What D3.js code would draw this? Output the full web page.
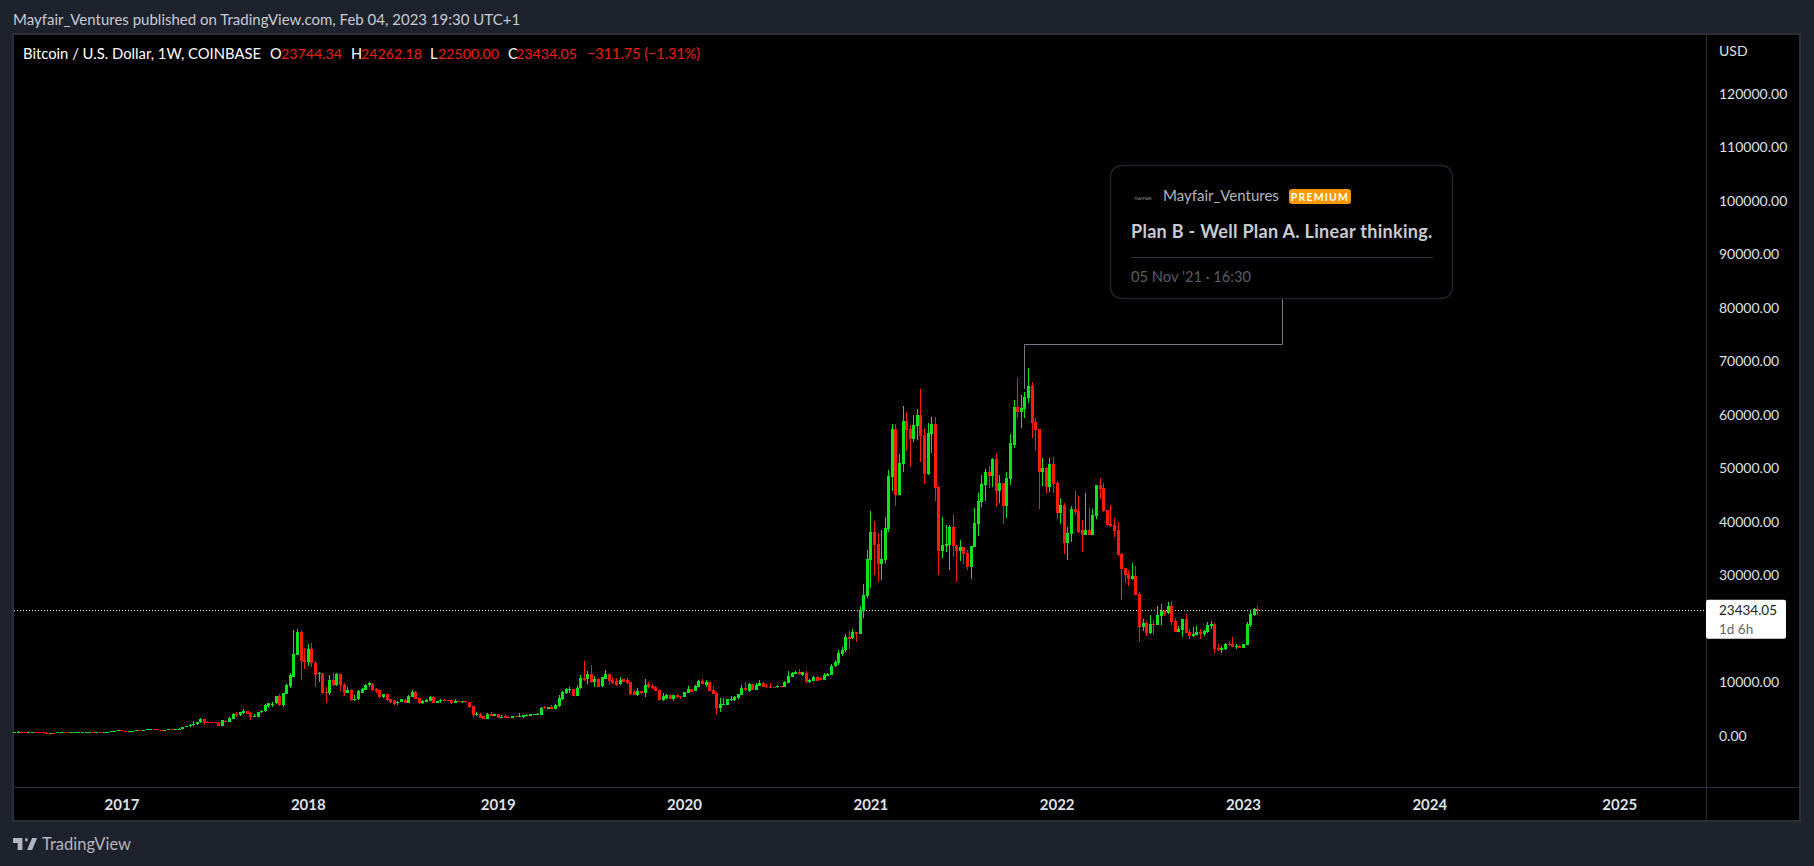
<!DOCTYPE html>
<html lang="en">
<head>
    <meta charset="UTF-8">
    <title>Bitcoin / U.S. Dollar, 1W, COINBASE</title>
    <script src="https://cdnjs.cloudflare.com/ajax/libs/d3/7.8.5/d3.min.js"></script>
    <style>
        body, html {
            margin: 0;
            padding: 0;
            width: 100%;
            height: 100%;
            overflow: hidden;
            background: #1e222d;
        }
        svg text {
            font-family: Lato, "Noto Sans", sans-serif;
        }
    </style>
</head>
<body>
    <div id="chart"></div>

    <script>
        // weekly candles, Jun 2016 to Jan 2023
        const opens = [
            578,665,765,665,640,650,665,655,625,585, 570,580,575,605,610,605,600,612,615,640,
            655,700,710,705,740,735,770,775,790,900, 995,905,825,920,925,1010,1000,1050,1180,1270,
            1230,1020,960,1100,1180,1170,1250,1340,1540,1780, 2050,2100,2500,3060,2580,2520,2560,2440,1880,2750,
            2620,3180,4060,3800,4250,4620,4240,3620,3560,4370, 4550,5550,5750,6050,7420,5740,7860,9350,11030,15150,
            19380,14150,13770,16140,13520,11530,11530,8170,8040,10410, 9480,11530,9480,8040,8540,6670,6800,8040,8540,9410,
            9660,8730,8540,7230,7790,6860,6610,6050,6300,6730, 6170,7230,8170,7040,6170,6360,6480,7170,6170,6430,
            6610,6610,6670,6170,6450,6400,6420,6300,5550,3870, 4060,3620,3180,4115,3680,4050,3430,3620,3490,3370,
            3680,3620,3490,3745,3745,3870,3990,3870,5426,5050, 5426,5050,5550,6800,8040,8540,8730,7480,8850,10785,
            10600,11530,10035,10660,9290,10660,11530,10410,10285,9660, 10535,10410,10035,8230,7610,8355,7920,9660,9290,9100,
            8540,6670,6980,7610,6860,7610,7360,7300,8040,8660, 8355,9165,10222,9540,10035,8540,7980,5175,5740,5740,
            6800,6610,6980,7670,8850,8290,9600,8540,9290,9910, 9290,9165,9100,9040,9290,9165,9910,11030,11530,11970,
            11345,11655,9975,10285,10910,10846,10410,11220,11345,12964,13650,15270,
            15960,18400,18180,19360,19000,23300,26110,32830,38070,35820, 32100,32830,38630,48350,57320,45000,50780,58810,57240,55450,
            57880,59940,56200,48910,56390,58260,46480,34520,35450,35640, 39000,35450,34520,35270,34150,31530,35270,39570,43680,46860,
            49290,48540,51720,45740,47230,42930,47980,54330,61430,60500, 61060,63120,65360,58630,57320,49290,50030,46480,50780,47230,
            41620,43120,36020,37700,42370,42000,38450,37510,38450,37510, 41060,46860,46300,42180,39570,39380,38450,33960,31350,30220,
            29290,29850,26480,20378,21063,19190,20876,20690,22370,23310, 22930,24240,21440,19380,19760,21810,19380,18630,18820,19380,
            19007,19380,20500,20876,16390,16016,16200,17140,17140,16580, 16765,16390,16950,20690,22560,23744.34
        ];
        const highs = [
            720,790,780,690,690,680,670,660,630,600, 590,590,610,630,615,610,615,620,645,660,
            720,745,750,770,750,775,780,800,940,1000, 1150,915,935,930,1050,1060,1070,1200,1300,1320,
            1260,1110,1110,1210,1210,1270,1350,1640,1850,2100, 2800,2580,3220,3100,2780,2560,2650,2560,2900,2900,
            3450,4150,4490,4480,4990,4700,4350,4100,4450,4780, 5900,6200,6280,7500,7880,8000,9750,11800,19700,19890,
            19700,16300,17140,17300,13900,12000,11700,9040,11350,11800, 11700,11600,9790,9040,8650,7540,8450,9000,9700,10020,
            9800,8950,8600,7800,7800,6900,6700,6450,6900,6800, 7700,8500,8300,7100,6700,6900,7400,7350,6550,6800,
            6800,6650,6700,6850,6500,6480,6550,6350,5600,4380, 4200,3650,4200,4400,4050,4100,3850,3850,3550,3750,
            3720,4210,3950,4000,4100,4050,4150,5350,5550,5450, 5750,5900,7600,8420,8900,9090,8800,9480,11280,13960,
            12090,13215,11150,10850,11050,12220,11600,10970,10785,10970, 10600,10700,10100,8480,8850,8430,10535,10035,9660,9200,
            8600,7920,7800,7700,7700,7800,7500,8250,9290,8800, 9500,10350,10540,10400,10100,9290,8100,6980,6980,6950,
            7420,7450,7790,9475,10036,9910,9650,9910,10410,10100, 9600,9910,9150,9450,9350,10200,12150,12000,12100,12470,
            11970,12150,10600,11200,11150,10900,11650,11780,13400,14085,16017,16516,
            18950,19570,19880,19400,24240,28350,34650,42000,40130,37885, 38450,40880,49660,58260,58300,52650,61620,60500,58100,59880,
            61060,64800,57510,58440,59570,59560,46700,40880,39380,39380, 41250,35640,36580,35270,34710,35456,42560,45360,48720,49850,
            50410,51900,52840,48720,47230,49290,56390,62740,66855,63680, 64240,68790,66110,59380,57320,51900,50220,51900,52090,47600,
            44430,43430,39010,42930,45735,44800,40315,45360,42560,42370, 46860,48160,47230,42180,43118,40690,39940,34150,31350,31000,
            32280,31720,26860,21810,21440,22560,21620,24240,24615,23460, 24990,25175,21996,20500,21810,22745,19940,20316,20500,19940,
            19760,21250,21440,21063,17140,16760,17330,17510,18450,17140, 16950,17140,21250,23310,23870,24262.18
        ];
        const lows = [
            575,660,530,620,610,640,640,620,480,565, 565,570,570,600,600,590,595,605,610,625,
            650,680,700,700,725,730,755,770,785,880, 820,750,800,880,915,950,990,1050,1170,1100,
            1000,900,950,1100,1140,1170,1240,1340,1540,1700, 1900,2060,2450,2000,2450,2300,2450,1850,1850,2600,
            2600,3150,3560,3600,4100,4000,2980,3450,3500,4200, 4400,5100,5300,5950,5500,5450,7750,9000,10900,15100,
            10400,12460,13030,12900,9170,10040,7800,6050,7600,9300, 9300,8430,7480,7950,6500,6450,6600,7950,8500,9100,
            8400,8000,7050,7050,6550,6100,5700,5800,6250,6100, 6100,7200,6850,5900,5900,6300,6450,6100,6150,6100,
            6430,6450,6000,6100,6350,6200,6180,5200,3560,3660, 3250,3130,3130,3650,3650,3350,3400,3350,3330,3340,
            3520,3580,3400,3700,3700,3850,3950,3850,5050,5000, 5000,5000,5450,6700,7800,7900,7400,7400,8800,10220,
            9660,9900,9165,9040,9170,10600,9475,9660,9290,9530, 10000,9660,7700,7550,7500,7800,7230,8950,8660,8300,
            6600,6500,6900,6800,6550,7100,6920,7250,7950,8180, 8300,9100,9600,9165,8300,7800,3870,4490,5650,5700,
            6550,6500,6900,7650,8400,8170,8500,8500,9250,9100, 8850,8950,8980,8950,9100,9100,9800,10900,11450,11400,
            11220,9790,9900,10250,10150,10350,10350,11150,11300,12800,13213,14958,
            15700,16200,18080,17510,19000,22000,25735,27610,30036,28730, 29100,32280,38070,45735,42930,44950,49290,53210,50220,54890,
            55270,51155,47040,48725,52840,43870,30036,33210,34330,30970, 33400,28730,32650,32090,30970,29290,35270,37325,42745,43860,
            46300,46480,42745,43490,39570,40690,46860,53770,59380,57510, 59380,62180,55640,53210,42370,46670,45360,45550,45360,40500,
            39570,33960,32840,36200,41250,37880,34330,37510,37510,37510, 40500,44240,41810,39190,39000,37140,33580,25360,28540,27980,
            29100,26300,17575,19630,18630,19007,18820,20690,20690,22370, 22745,20690,19380,19380,18450,19190,18070,18450,18820,18070,
            18630,19190,19940,15460,15830,15460,15960,16760,16580,16200, 16390,16390,16950,20316,22370,22500
        ];
        const closes = [
            665,765,665,640,650,665,655,625,585,570, 580,575,605,610,605,600,612,615,640,655,
            700,710,705,740,735,770,775,790,900,995, 905,825,920,925,1010,1000,1050,1180,1270,1230,
            1020,960,1100,1180,1170,1250,1340,1540,1780,2050, 2100,2550,3120,2440,2520,2500,2500,1880,2860,2700,
            3300,4120,3870,4430,4680,4120,3490,3700,4430,4550, 5740,6050,5950,7420,5740,7980,9480,11340,15270,19380,
            13960,13770,16140,13520,11340,11780,8040,8040,10410,9410, 11530,9410,8040,8540,6670,6920,8290,8730,9480,9790,
            8540,8290,7230,7790,6670,6360,5860,6360,6800,6170, 7360,8230,6920,6170,6480,6670,7230,6170,6480,6610,
            6540,6550,6110,6550,6400,6440,6240,5360,3870,4120, 3370,3180,4050,3750,3990,3370,3560,3380,3370,3680,
            3560,3745,3870,3930,4055,3990,4055,5176,5176,5364, 5050,5800,6980,8170,8660,8730,7480,8980,10720,10410,
            11530,10035,10535,9165,10970,11530,10285,9910,9540,10410, 10100,9790,7790,7610,8355,7920,9475,9040,8915,8355,
            6670,7420,7610,6860,7610,7170,7230,8105,8730,8230, 9290,10222,9660,10100,8355,7860,5175,5925,5925,6860,
            6860,7295,7790,8915,8540,9660,8540,9475,9910,9165, 9040,9040,9040,9290,9165,10100,11150,11780,11970,11470,
            11840,9975,10410,11035,10222,10410,11345,11530,12964,13774,15394,16017,
            18450,18135,19380,19010,23490,26300,33030,38070,35640,32090, 33020,38820,48540,57320,44990,50970,58820,57140,55450,58070,
            59940,56015,48910,56575,58260,46300,34520,35640,35820,39000, 35450,34520,35270,33960,31530,35450,39750,43870,47040,49290,
            48540,51720,45740,47230,42930,48160,54710,61430,60500,61250, 63300,65360,58440,57140,49290,50030,46480,50780,47040,41620,
            43120,36020,37880,42370,41810,38070,37510,38450,37510,41250, 46860,46110,42000,39380,39190,38260,33770,31160,30040,29290,
            29850,26300,20380,21063,19190,20876,20690,22560,23310,22745, 24240,21250,19380,19940,21810,19190,18630,19007,19380,19007,
            19570,20690,20876,16200,16016,16390,17140,16950,16580,16765, 16390,17140,20876,22745,23680,23434.05
        ];

        // 20000.00 sits behind the last price label, so it is not listed
        const priceTicks = [0, 10000, 30000, 40000, 50000, 60000, 70000, 80000, 90000, 100000, 110000, 120000];
        const yearTicks = ["2017-01-02", "2018-01-01", "2019-01-07", "2020-01-06", "2021-01-04",
            "2022-01-03", "2023-01-02", "2024-01-01", "2025-01-06"];
        const lastClose = 23434.05;
        const noteAnchorDate = "2021-11-01";
        const noteAnchorPrice = 64800;

        const UP = "#0fe31d";
        const DOWN = "#ff1a0c";
        const RED_TEXT = "#f01e10";
        const BORDER = "#2a2e39";

        const width = 1814, height = 866;
        const pane = {left: 13, top: 34, right: 1707, bottom: 787, outerRight: 1800, outerBottom: 821};

        const weeks = d3.utcMonday.range(new Date(Date.UTC(2016, 5, 6)), new Date(Date.UTC(2023, 0, 31)));
        const candles = weeks.map((date, i) => ({date, open: opens[i], high: highs[i], low: lows[i], close: closes[i]}));

        const x = d3.scaleUtc().domain([weeks[0], weeks[weeks.length - 1]]).range([14, 1257.3]);
        const y = d3.scaleLinear().domain([0, 120000]).range([735.7, 93.7]);

        const svg = d3.select("#chart").append("svg")
            .attr("width", width)
            .attr("height", height)
            .style("display", "block");

        // panes
        svg.append("rect")
            .attr("x", pane.left).attr("y", pane.top)
            .attr("width", pane.outerRight - pane.left).attr("height", pane.outerBottom - pane.top)
            .attr("fill", "#000").attr("stroke", BORDER).attr("stroke-width", 2)
            .attr("shape-rendering", "crispEdges");
        svg.append("line")
            .attr("x1", pane.right - 0.5).attr("x2", pane.right - 0.5)
            .attr("y1", pane.top).attr("y2", pane.outerBottom)
            .attr("stroke", BORDER);
        svg.append("line")
            .attr("x1", pane.left).attr("x2", pane.outerRight)
            .attr("y1", pane.bottom + 0.5).attr("y2", pane.bottom + 0.5)
            .attr("stroke", BORDER);

        // last price line
        svg.append("line")
            .attr("x1", 14).attr("x2", pane.right - 1)
            .attr("y1", Math.round(y(lastClose)) + 0.5).attr("y2", Math.round(y(lastClose)) + 0.5)
            .attr("stroke", "#e8e8e8").attr("stroke-dasharray", "1 2");

        // note connector
        const noteX = Math.round(x(new Date(noteAnchorDate))) + 0.5;
        svg.append("path")
            .attr("d", `M1282.5,298V344.5H${noteX}V${y(noteAnchorPrice)}`)
            .attr("fill", "none").attr("stroke", "#787b86");

        // candles
        const marks = svg.append("g").attr("shape-rendering", "crispEdges");
        const color = d => d.close >= d.open ? UP : DOWN;
        marks.selectAll(".wick").data(candles).enter().append("rect")
            .attr("class", "wick")
            .attr("x", d => Math.round(x(d.date)))
            .attr("y", d => y(d.high))
            .attr("width", 1)
            .attr("height", d => y(d.low) - y(d.high))
            .attr("fill", color);
        marks.selectAll(".body").data(candles).enter().append("rect")
            .attr("class", "body")
            .attr("x", d => Math.round(x(d.date)) - 1)
            .attr("y", d => y(Math.max(d.open, d.close)))
            .attr("width", 3)
            .attr("height", d => Math.max(1, Math.abs(y(d.open) - y(d.close))))
            .attr("fill", color);

        // axes
        const yAxis = svg.append("g")
            .attr("transform", `translate(${pane.right},0)`)
            .call(d3.axisRight(y).tickValues(priceTicks).tickSize(0).tickPadding(12).tickFormat(d3.format(".2f")));
        yAxis.select(".domain").remove();
        yAxis.selectAll("text").attr("fill", "#dfe1e8").style("font-size", "14px").style("font-family", "Lato");

        const xAxis = svg.append("g")
            .attr("transform", "translate(0,787)")
            .call(d3.axisBottom(x).tickValues(yearTicks.map(d => new Date(d))).tickSize(0).tickPadding(12).tickFormat(d3.utcFormat("%Y")));
        xAxis.select(".domain").remove();
        xAxis.selectAll("text").attr("fill", "#dfe1e8").style("font-size", "15px").style("font-weight", "700").style("font-family", "Lato");

        svg.append("text").attr("x", 1719).attr("y", 56).attr("fill", "#dfe1e8").attr("font-size", 14).text("USD");

        // last price label
        const labelY = y(lastClose);
        svg.append("rect")
            .attr("x", pane.right - 1).attr("y", labelY - 10.5)
            .attr("width", 80).attr("height", 39).attr("rx", 2)
            .attr("fill", "#fff");
        svg.append("text").attr("x", 1719).attr("y", labelY + 4.5).attr("fill", "#222").attr("font-size", 13.5).text("23434.05");
        svg.append("text").attr("x", 1719).attr("y", labelY + 24).attr("fill", "#666").attr("font-size", 13.5).text("1d 6h");

        // header and legend
        svg.append("text").attr("x", 13).attr("y", 25).attr("fill", "#c8cad2").attr("font-size", 15)
            .text("Mayfair_Ventures published on TradingView.com, Feb 04, 2023 19:30 UTC+1");

        const legend = [
            {px: 23, size: 14.8, text: "Bitcoin / U.S. Dollar, 1W, COINBASE", fill: "#fff"},
            {px: 270, size: 14.5, text: "O", fill: "#fff"},
            {px: 281, size: 14.2, text: "23744.34", fill: RED_TEXT},
            {px: 351, size: 14.5, text: "H", fill: "#fff"},
            {px: 361, size: 14.2, text: "24262.18", fill: RED_TEXT},
            {px: 430, size: 14.5, text: "L", fill: "#fff"},
            {px: 438, size: 14.2, text: "22500.00", fill: RED_TEXT},
            {px: 508, size: 14.5, text: "C", fill: "#fff"},
            {px: 516, size: 14.2, text: "23434.05", fill: RED_TEXT},
            {px: 587, size: 14.4, text: "\u2212311.75 (\u22121.31%)", fill: RED_TEXT}
        ];
        svg.append("g").selectAll("text").data(legend).enter().append("text")
            .attr("x", d => d.px).attr("y", 59)
            .attr("fill", d => d.fill).attr("font-size", d => d.size)
            .text(d => d.text);

        // note card
        const card = svg.append("g");
        card.append("rect")
            .attr("x", 1110.5).attr("y", 165.5)
            .attr("width", 342).attr("height", 133).attr("rx", 11)
            .attr("fill", "#000").attr("stroke", "#1f222c").attr("stroke-width", 1.5);
        card.append("text").attr("x", 1143).attr("y", 199.5).attr("fill", "#9a9a9a")
            .attr("font-size", 4).attr("text-anchor", "middle").text("MAYFAIR");
        card.append("text").attr("x", 1163).attr("y", 201).attr("fill", "#b2b5be")
            .attr("font-size", 15).text("Mayfair_Ventures");
        card.append("rect").attr("x", 1289).attr("y", 189).attr("width", 62).attr("height", 15)
            .attr("rx", 3).attr("fill", "#ff9800");
        card.append("text").attr("x", 1320).attr("y", 200.5).attr("fill", "#fff").attr("font-size", 10.5)
            .attr("font-weight", 700).attr("letter-spacing", 1.2).attr("text-anchor", "middle").text("PREMIUM");
        card.append("text").attr("x", 1131).attr("y", 237.5).attr("fill", "#c9cbd3").attr("font-size", 18)
            .attr("letter-spacing", 0.3).attr("font-weight", 700).text("Plan B - Well Plan A. Linear thinking.");
        card.append("line").attr("x1", 1131).attr("x2", 1433).attr("y1", 257.5).attr("y2", 257.5).attr("stroke", BORDER);
        card.append("text").attr("x", 1131).attr("y", 282).attr("fill", "#5a5d68").attr("font-size", 14.7)
            .text("05 Nov '21 \u00b7 16:30");

        // footer logo
        const logo = svg.append("g").attr("transform", "translate(13,832.8) scale(0.67,0.86)").attr("fill", "#b2b5be");
        logo.append("path").attr("d", "M14 6H0v6h7v8h7V6Z");
        logo.append("circle").attr("cx", 20).attr("cy", 8).attr("r", 2);
        logo.append("path").attr("d", "M28.5 6H36l-7.5 14H21Z");
        svg.append("text").attr("x", 42).attr("y", 850).attr("fill", "#b2b5be").attr("font-size", 16.5).text("TradingView");
    </script>
</body>
</html>
